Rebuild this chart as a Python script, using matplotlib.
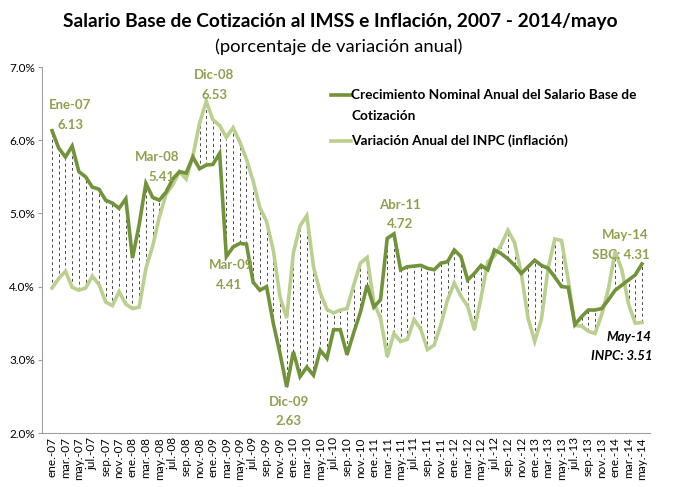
import matplotlib
matplotlib.use("Agg")
import matplotlib.pyplot as plt
from matplotlib.ticker import FuncFormatter

plt.rcParams['font.family'] = ['Lato', 'DejaVu Sans']

meses = ['ene.', 'feb.', 'mar.', 'abr.', 'may.', 'jun.', 'jul.', 'ago.', 'sep.', 'oct.', 'nov.', 'dic.']
years = ['07', '08', '09', '10', '11', '12', '13', '14']
month_labels = [f"{m}-{y}" for y in years for m in meses][:89]

sbc = [6.13, 5.89, 5.77, 5.92, 5.57, 5.50, 5.36, 5.33, 5.18, 5.14, 5.07, 5.20,
       4.39, 4.85, 5.41, 5.22, 5.18, 5.29, 5.47, 5.57, 5.55, 5.77, 5.61, 5.66,
       5.67, 5.82, 4.41, 4.54, 4.59, 4.58, 4.06, 3.95, 4.00, 3.50, 3.09, 2.63,
       3.11, 2.77, 2.90, 2.79, 3.13, 3.02, 3.41, 3.41, 3.07, 3.37, 3.65, 4.02,
       3.72, 3.82, 4.66, 4.72, 4.23, 4.27, 4.28, 4.29, 4.25, 4.23, 4.32, 4.34,
       4.50, 4.41, 4.09, 4.18, 4.29, 4.23, 4.50, 4.45, 4.38, 4.29, 4.18, 4.27,
       4.36, 4.29, 4.25, 4.13, 4.00, 3.99, 3.48, 3.59, 3.68, 3.68, 3.70, 3.82,
       3.95, 4.02, 4.09, 4.16, 4.31]

inpc = [3.98, 4.11, 4.21, 3.99, 3.95, 3.98, 4.14, 4.03, 3.79, 3.74, 3.93, 3.76,
        3.70, 3.72, 4.25, 4.55, 4.95, 5.26, 5.39, 5.57, 5.47, 5.78, 6.23, 6.53,
        6.28, 6.20, 6.04, 6.17, 5.98, 5.74, 5.44, 5.08, 4.89, 4.50, 3.86, 3.57,
        4.46, 4.83, 4.97, 4.27, 3.92, 3.69, 3.64, 3.68, 3.70, 4.02, 4.32, 4.40,
        3.78, 3.57, 3.04, 3.36, 3.25, 3.28, 3.55, 3.42, 3.14, 3.20, 3.48, 3.82,
        4.05, 3.87, 3.73, 3.41, 3.85, 4.34, 4.42, 4.57, 4.77, 4.60, 4.18, 3.57,
        3.25, 3.55, 4.25, 4.65, 4.63, 4.09, 3.47, 3.46, 3.39, 3.36, 3.62, 3.97,
        4.48, 4.23, 3.76, 3.50, 3.51]

sbc_label = 'Crecimiento Nominal Anual del Salario Base de\nCotización'
inpc_label = 'Variación Anual del INPC (inflación)'
yticks = [2.0, 3.0, 4.0, 5.0, 6.0, 7.0]

dark = '#71933A'
light = '#B9D08F'
olive = '#8FA14E'

fig = plt.figure(figsize=(6.73, 4.87), dpi=100)
ax = fig.add_axes([42/673, 1-433/487, 608/673, 366/487])

x = list(range(len(sbc)))
for i in x:
    lo, hi = sorted([sbc[i], inpc[i]])
    ax.plot([i, i], [lo, hi], color='#4A4A4A', lw=0.7, ls=(0, (3, 3)), zorder=1)

ax.plot(x, inpc, color=light, lw=2.6, zorder=2, solid_joinstyle='miter')
ax.plot(x, sbc, color=dark, lw=2.6, zorder=3, solid_joinstyle='miter')

ax.set_xlim(-1.5, 89.2)
ax.set_ylim(2.0, 7.0)
ax.set_yticks(yticks)
ax.yaxis.set_major_formatter(FuncFormatter(lambda v, p: f"{v:.1f}%"))
ax.set_xticks(x[::2])
ax.set_xticklabels(month_labels[::2], rotation=90, fontsize=8.5)
ax.tick_params(axis='x', length=0, pad=3)
ax.tick_params(axis='y', length=3, color='#A0A0A0', labelsize=8.5, pad=2)
for s in ['top', 'right']:
    ax.spines[s].set_visible(False)
ax.spines['left'].set_color('#A0A0A0')
ax.spines['bottom'].set_color('#A0A0A0')

fig.text(0.505, 1-22/487, 'Salario Base de Cotización al IMSS e Inflación, 2007 - 2014/mayo',
         ha='center', va='center', fontsize=13.8, fontweight='bold')
fig.text(0.503, 1-47/487, '(porcentaje de variación anual)', ha='center', va='center', fontsize=13.3)

ann = dict(ha='center', va='center', fontsize=9.5, fontweight='bold', color=olive)
ax.text(2.7, 6.48, 'Ene-07', **ann)
ax.text(2.7, 6.21, '6.13', **ann)
ax.text(24.2, 6.89, 'Dic-08', **ann)
ax.text(24.2, 6.62, '6.53', **ann)
ax.text(15.6, 5.77, 'Mar-08', **ann)
ax.text(16.3, 5.50, '5.41', **ann)
ax.text(26.7, 4.30, 'Mar-09', **ann)
ax.text(26.4, 4.02, '4.41', **ann)
ax.text(35.3, 2.42, 'Dic-09', **ann)
ax.text(35.3, 2.16, '2.63', **ann)
ax.text(51.9, 5.11, 'Abr-11', **ann)
ax.text(51.9, 4.86, '4.72', **ann)
ax.text(85.5, 4.70, 'May-14', **ann)
ax.text(84.8, 4.43, 'SBC: 4.31', **ann)
annk = dict(ha='center', va='center', fontsize=9.5, fontweight='bold', style='italic', color='black')
ax.text(86.1, 3.31, 'May-14', **annk)
ax.text(85.0, 3.05, 'INPC: 3.51', **annk)

# legend
def fx(px):
    return px / 673
def fy(py):
    return 1 - py / 487
fig.add_artist(plt.Line2D([fx(331), fx(351)], [fy(95), fy(95)], color=dark, lw=2.6))
fig.add_artist(plt.Line2D([fx(331), fx(351)], [fy(141), fy(141)], color=light, lw=2.6))
fig.text(fx(351), fy(95), 'Crecimiento Nominal Anual del Salario Base de', ha='left', va='center',
         fontsize=9.8, fontweight='bold')
fig.text(fx(351), fy(116), 'Cotización', ha='left', va='center', fontsize=9.8, fontweight='bold')
fig.text(fx(351), fy(141), inpc_label, ha='left', va='center', fontsize=9.8, fontweight='bold')

fig.savefig('out.png', dpi=100)
